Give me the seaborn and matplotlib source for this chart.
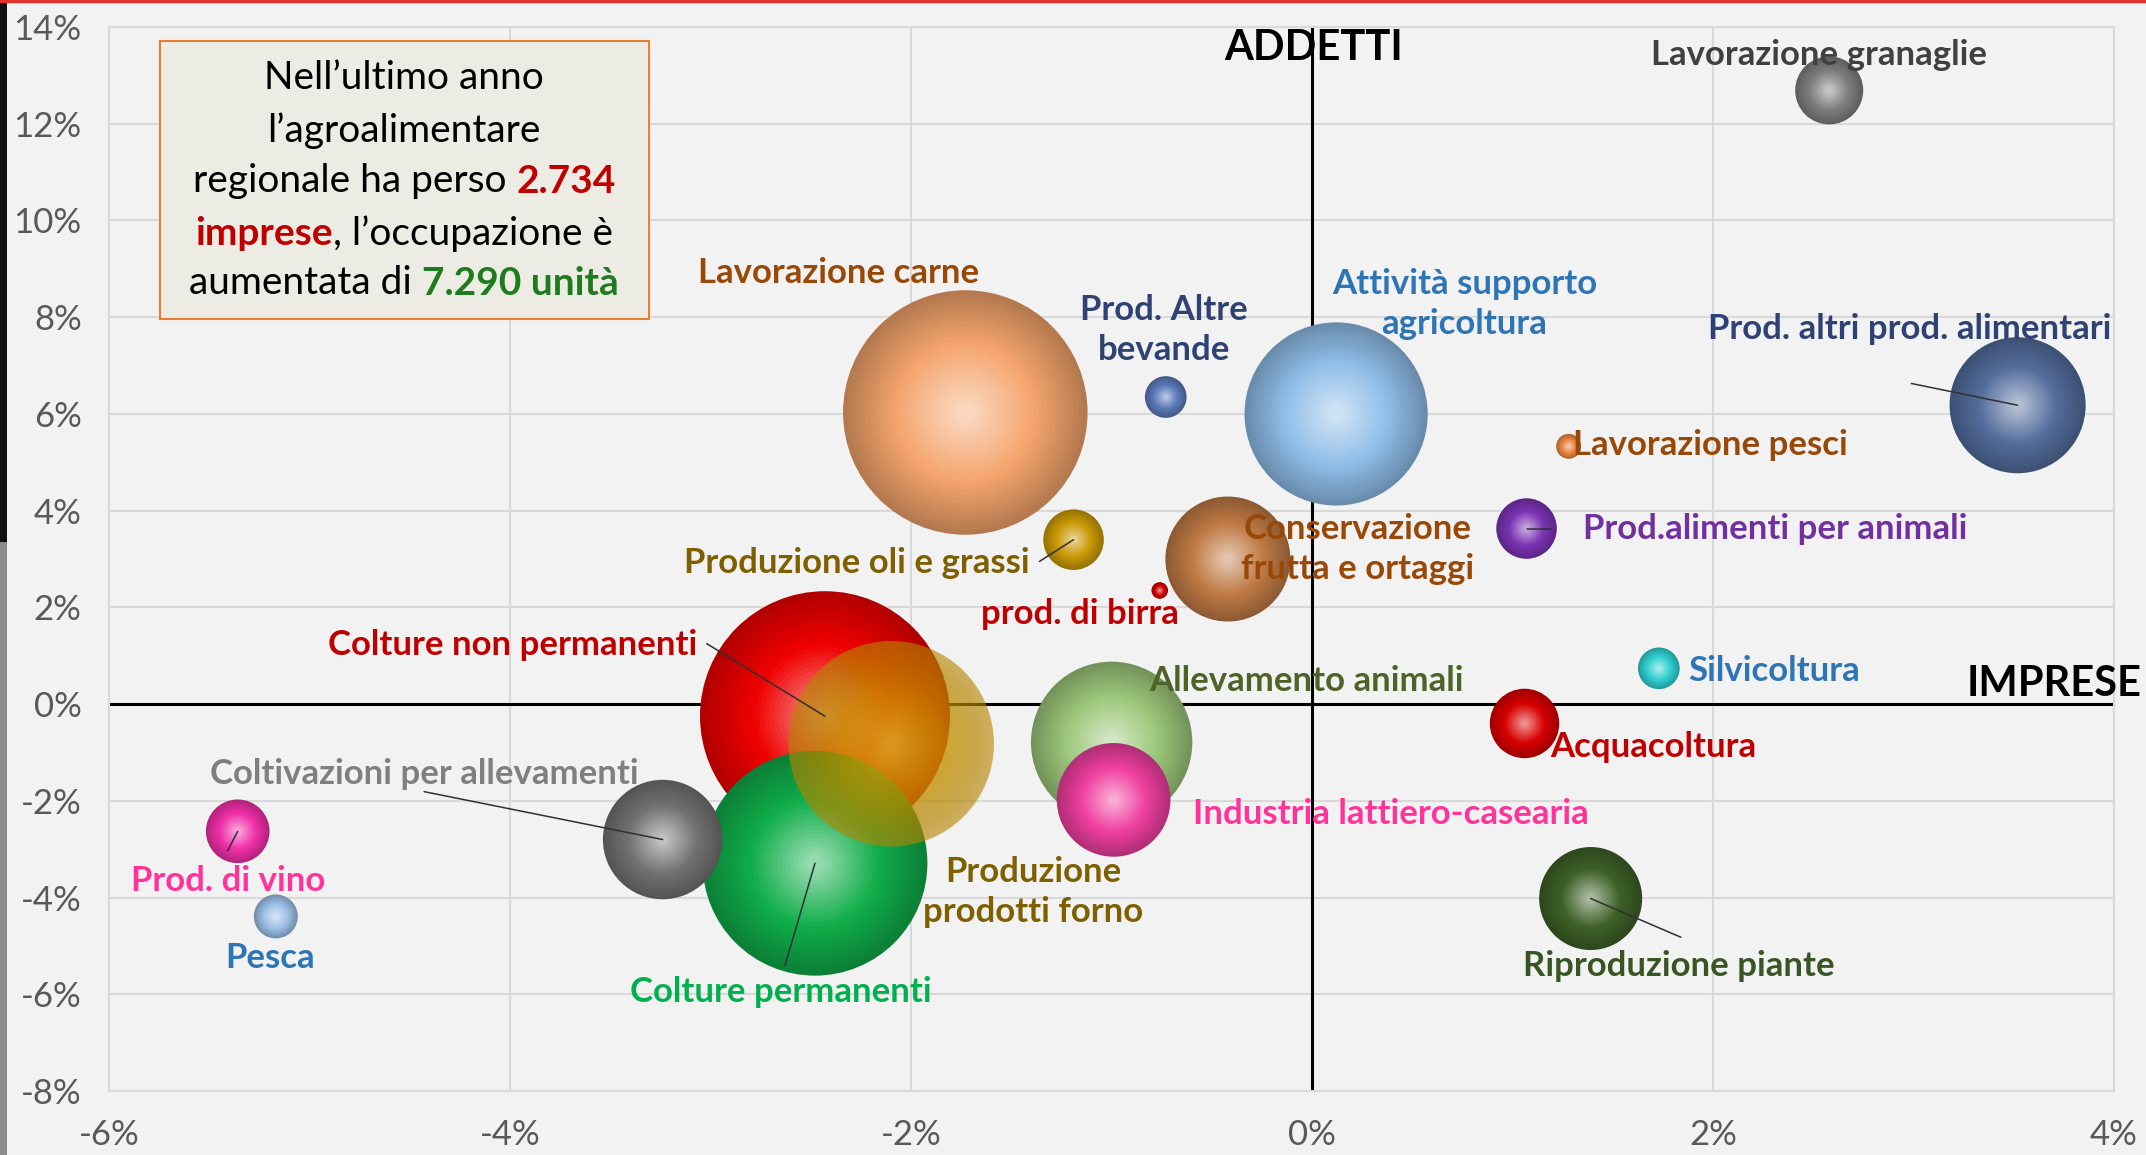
import numpy as np
import pandas as pd
import matplotlib
matplotlib.use("Agg")
import matplotlib.pyplot as plt
import seaborn as sns
from matplotlib.colors import to_rgb
from matplotlib.patches import Rectangle
from matplotlib.lines import Line2D

# ---------------- data ----------------
settori = [
    "Colture non permanenti", "Colture permanenti", "Produzione prodotti forno",
    "Lavorazione granaglie", "Lavorazione carne", "Prod. Altre bevande",
    "Attività supporto agricoltura", "Prod. altri prod. alimentari", "Lavorazione pesci",
    "Prod.alimenti per animali", "Conservazione frutta e ortaggi", "Produzione oli e grassi",
    "prod. di birra", "Allevamento animali", "Industria lattiero-casearia",
    "Silvicoltura", "Acquacoltura", "Riproduzione piante",
    "Coltivazioni per allevamenti", "Prod. di vino", "Pesca",
]
# variazione % imprese (asse x)
var_imprese = [-2.43, -2.48, -2.10, 2.58, -1.73, -0.73, 0.12, 3.52, 1.28, 1.07, -0.42,
               -1.19, -0.76, -1.00, -0.99, 1.73, 1.06, 1.39, -3.24, -5.36, -5.17]
# variazione % addetti (asse y)
var_addetti = [-0.25, -3.29, -0.82, 12.69, 6.03, 6.35, 6.00, 6.18, 5.33, 3.63, 3.00,
               3.40, 2.35, -0.79, -1.98, 0.74, -0.40, -4.02, -2.80, -2.63, -4.39]
# dimensione bolla (area, unità relative)
peso = [324, 262, 219, 24, 310, 9, 174, 96, 3.2, 19, 81,
        19, 1.4, 135, 67, 9, 25, 55, 74, 21, 10]

colori_bolle = ["#f00000", "#10ad4a", "#f5b400", "#7f7f7f", "#f4a46c", "#5a7ab8",
                "#8fbde8", "#536d9c", "#e9843f", "#7b34b4", "#c07a45", "#c99a06",
                "#d00000", "#9cc77a", "#ef3fa0", "#30d0d0", "#d80000", "#3d6127",
                "#727272", "#f030a8", "#9cbfe6"]
colori_etichette = ["#c00000", "#00b050", "#7f6000", "#404040", "#984807", "#2e4374",
                    "#2e75b6", "#2e4374", "#984807", "#7030a0", "#984807", "#7f6000",
                    "#c00000", "#4f6228", "#ff3399", "#2e75b6", "#c00000", "#375623",
                    "#7f7f7f", "#ff3399", "#2e75b6"]

x_ticks = [-6, -4, -2, 0, 2, 4]
y_ticks = [-8, -6, -4, -2, 0, 2, 4, 6, 8, 10, 12, 14]

# ---------------- layout (label placement) ----------------
etichette = {
    "Colture non permanenti": ("Colture non permanenti", -3.065, 1.22, "right"),
    "Colture permanenti": ("Colture permanenti", -2.65, -5.95, "center"),
    "Produzione prodotti forno": ("Produzione\nprodotti forno", -1.39, -3.88, "center"),
    "Lavorazione granaglie": ("Lavorazione granaglie", 2.53, 13.43, "center"),
    "Lavorazione carne": ("Lavorazione carne", -2.36, 8.92, "center"),
    "Prod. Altre bevande": ("Prod. Altre\nbevande", -0.74, 7.73, "center"),
    "Attività supporto agricoltura": ("Attività supporto\nagricoltura", 0.76, 8.27, "center"),
    "Prod. altri prod. alimentari": ("Prod. altri prod. alimentari", 2.98, 7.76, "center"),
    "Lavorazione pesci": ("Lavorazione pesci", 1.30, 5.35, "left"),
    "Prod.alimenti per animali": ("Prod.alimenti per animali", 1.35, 3.63, "left"),
    "Conservazione frutta e ortaggi": ("Conservazione\nfrutta e ortaggi", 0.225, 3.20, "center"),
    "Produzione oli e grassi": ("Produzione oli e grassi", -1.41, 2.92, "right"),
    "prod. di birra": ("prod. di birra", -1.16, 1.87, "center"),
    "Allevamento animali": ("Allevamento animali", -0.03, 0.48, "center"),
    "Industria lattiero-casearia": ("Industria lattiero-casearia", -0.594, -2.27, "left"),
    "Silvicoltura": ("Silvicoltura", 1.877, 0.68, "left"),
    "Acquacoltura": ("Acquacoltura", 1.19, -0.88, "left"),
    "Riproduzione piante": ("Riproduzione piante", 1.83, -5.41, "center"),
    "Coltivazioni per allevamenti": ("Coltivazioni per allevamenti", -4.43, -1.44, "center"),
    "Prod. di vino": ("Prod. di vino", -5.41, -3.65, "center"),
    "Pesca": ("Pesca", -5.20, -5.24, "center"),
}
linee_guida = {
    "Colture non permanenti": (-3.02, 1.25),
    "Coltivazioni per allevamenti": (-4.43, -1.81),
    "Colture permanenti": (-2.63, -5.41),
    "Riproduzione piante": (1.84, -4.82),
    "Prod. altri prod. alimentari": (2.99, 6.63),
    "Produzione oli e grassi": (-1.36, 2.95),
    "Prod. di vino": (-5.41, -3.03),
    "Prod.alimenti per animali": (1.19, 3.63),
}

# ---------------- style ----------------
sns.set_theme(style="white")
plt.rcParams["font.family"] = ["Lato", "DejaVu Sans"]
BG = "#f2f2f2"

fig = plt.figure(figsize=(21.46, 11.55), dpi=100, facecolor=BG)
ax = fig.add_axes([0.051, 0.0554, 0.934, 0.9212])
ax.set_facecolor(BG)

# shaded spheres: concentric layers per bubble
L = 26
rows = []
palette = {}
for i, nome in enumerate(settori):
    base = np.array(to_rgb(colori_bolle[i]))
    dark = base * 0.74
    light = base + (1 - base) * 0.55
    trasl = nome == "Produzione prodotti forno"
    for k in range(L):
        t = k / (L - 1)
        f = 1 - 0.92 * t
        if t < 0.45:
            u = t / 0.45
            col = dark * (1 - u) + base * u
        else:
            u = (t - 0.45) / 0.55
            col = base * (1 - u) + light * u
        if trasl:
            a = 0.62 if k == 0 else 0.04
        else:
            a = 1.0
        key = f"{i}-{k}"
        palette[key] = (float(col[0]), float(col[1]), float(col[2]), a)
        rows.append({"x": var_imprese[i], "y": var_addetti[i],
                     "s": peso[i] * f * f, "key": key})
df = pd.DataFrame(rows)

sns.scatterplot(data=df, x="x", y="y", hue="key", palette=palette,
                size="s", sizes=(0, 40000), size_norm=(0, 400),
                legend=False, linewidth=0, edgecolor="none", ax=ax, zorder=3)

ax.set_xlim(-6, 4)
ax.set_ylim(-8, 14)
ax.set_xticks(x_ticks)
ax.set_yticks(y_ticks)
ax.set_xticklabels([f"{v}%" for v in x_ticks])
ax.set_yticklabels([f"{v}%" for v in y_ticks])
ax.set_xlabel("")
ax.set_ylabel("")
ax.tick_params(axis="both", length=0, labelsize=25, labelcolor="#595959")
ax.tick_params(axis="y", pad=20)
ax.tick_params(axis="x", pad=20)
ax.grid(True, color="#d9d9d9", lw=1.5, zorder=0)
ax.set_axisbelow(True)
for sp in ax.spines.values():
    sp.set_color("#d9d9d9")
    sp.set_linewidth(1.5)
ax.axhline(0, color="black", lw=2.2, zorder=2)
ax.axvline(0, color="black", lw=2.2, zorder=2)

# leader lines
for nome, (lx, ly) in linee_guida.items():
    i = settori.index(nome)
    ax.plot([lx, var_imprese[i]], [ly, var_addetti[i]], color="#303030", lw=1.1, zorder=4)

# bubble labels
for i, nome in enumerate(settori):
    testo, tx, ty, ha = etichette[nome]
    ax.text(tx, ty, testo, ha=ha, va="center", fontsize=25, fontweight="bold",
            color=colori_etichette[i], zorder=5, linespacing=1.3)

# axis titles
ax.text(0.01, 13.57, "ADDETTI", ha="center", va="center", fontsize=30,
        fontweight="bold", color="black", zorder=6)
ax.text(4.14, 0.42, "IMPRESE", ha="right", va="center", fontsize=30,
        fontweight="bold", color="black", zorder=6, clip_on=False)

# annotation box
ax.add_patch(Rectangle((0.025, 0.726), 0.244, 0.261, transform=ax.transAxes,
                       facecolor="#ecece4", edgecolor="#ed7d31", lw=1.5, zorder=6))
renderer = fig.canvas.get_renderer()
FS = 28
righe = [
    (0.952, [("Nell\u2019ultimo anno", "black", "normal")]),
    (0.903, [("l\u2019agroalimentare", "black", "normal")]),
    (0.855, [("regionale ha perso ", "black", "normal"), ("2.734", "#c00000", "bold")]),
    (0.806, [("imprese", "#c00000", "bold"), (", l\u2019occupazione è", "black", "normal")]),
    (0.759, [("aumentata di ", "black", "normal"), ("7.290 unità", "#1e7b1e", "bold")]),
]


def larghezza(s, w):
    t1 = ax.text(0, 0, s + "l", fontsize=FS, fontweight=w, transform=ax.transAxes)
    t2 = ax.text(0, 0, "l", fontsize=FS, fontweight=w, transform=ax.transAxes)
    wd = t1.get_window_extent(renderer).width - t2.get_window_extent(renderer).width
    t1.remove()
    t2.remove()
    return wd


ax_w = ax.get_window_extent(renderer).width
for y, segs in righe:
    widths = [larghezza(s, w) for s, _, w in segs]
    tot = sum(widths)
    x0 = 0.147 - tot / ax_w / 2
    for (s, c, w), wd in zip(segs, widths):
        ax.text(x0, y, s, transform=ax.transAxes, fontsize=FS, fontweight=w,
                color=c, ha="left", va="center", zorder=7)
        x0 += wd / ax_w

# frame decorations
fig.add_artist(Line2D([0, 1], [0.999, 0.999], transform=fig.transFigure,
                      color="#e0312b", lw=2.5))
fig.add_artist(Rectangle((0, 1 - 542 / 1155), 7 / 2146, 542 / 1155,
                         transform=fig.transFigure, color="#111111", lw=0))
fig.add_artist(Rectangle((0, 0), 7 / 2146, 1 - 542 / 1155,
                         transform=fig.transFigure, color="#8c8c8c", lw=0))

fig.savefig("out.png", dpi=100, facecolor=BG)
